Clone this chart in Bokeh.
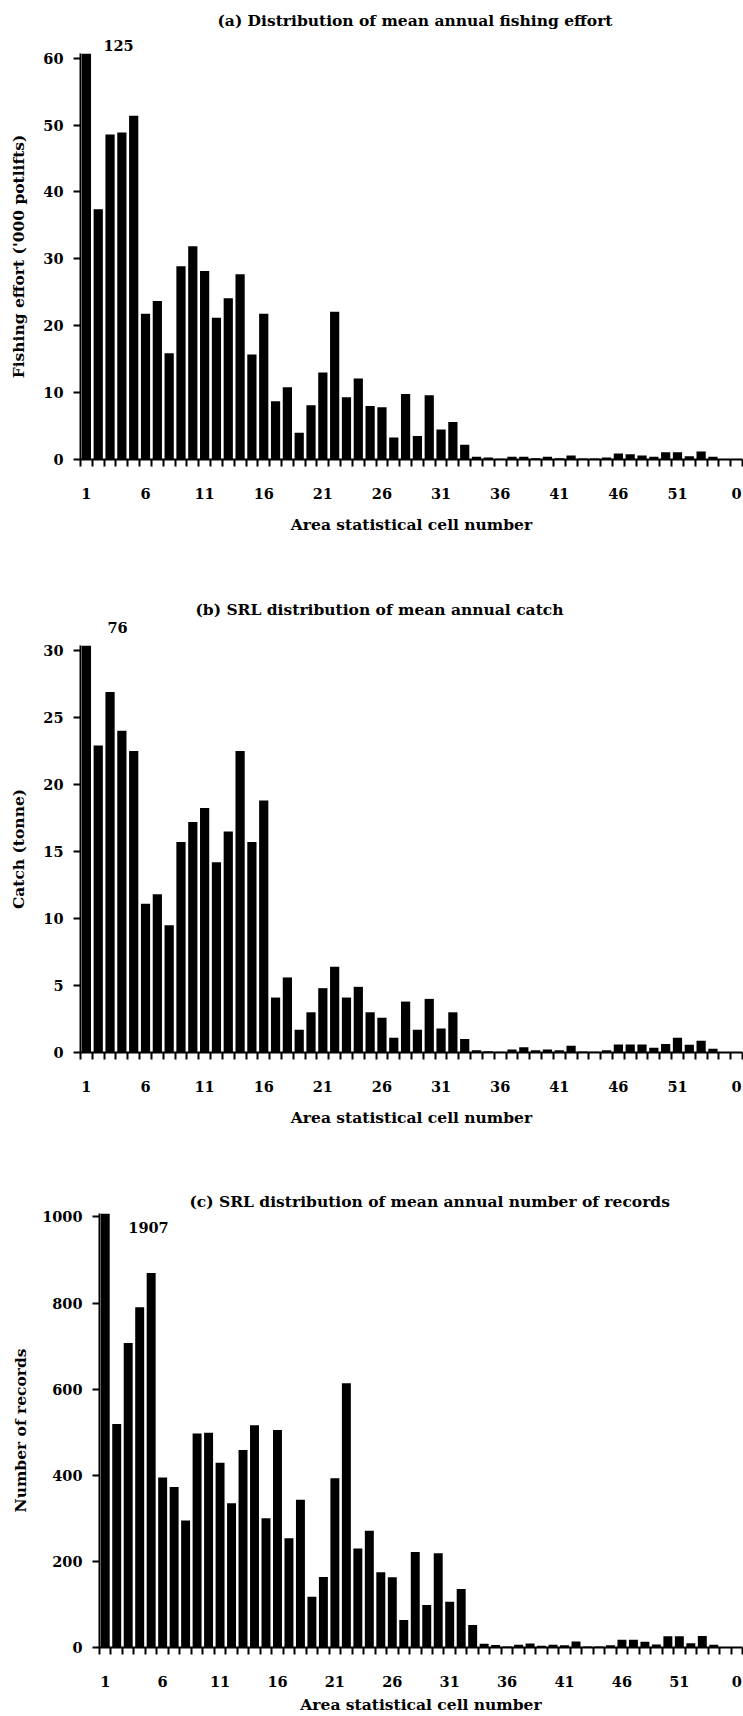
from bokeh.plotting import figure
from bokeh.models import Range1d, FixedTicker, Label, LinearAxis, Title
from bokeh.embed import file_html
from bokeh.resources import INLINE

# ---------------- data ----------------
cells = [str(i) for i in range(1, 56)] + ["0"]
label_every = 5

effort = [125, 37.4, 48.6, 48.9, 51.4, 21.8, 23.7, 15.9, 28.9, 31.9,
          28.2, 21.2, 24.1, 27.7, 15.7, 21.8, 8.7, 10.8, 4.0, 8.1,
          13.0, 22.1, 9.3, 12.1, 8.0, 7.8, 3.3, 9.8, 3.5, 9.6,
          4.5, 5.6, 2.2, 0.4, 0.3, 0.1, 0.4, 0.4, 0.2, 0.4,
          0.2, 0.6, 0.15, 0.15, 0.3, 0.9, 0.8, 0.6, 0.4, 1.1,
          1.1, 0.5, 1.2, 0.4, 0, 0]

catch = [76, 22.9, 26.9, 24.0, 22.5, 11.1, 11.8, 9.5, 15.7, 17.2,
         18.25, 14.2, 16.5, 22.5, 15.7, 18.8, 4.1, 5.6, 1.7, 3.0,
         4.8, 6.4, 4.1, 4.9, 3.0, 2.6, 1.1, 3.8, 1.7, 4.0,
         1.8, 3.0, 1.0, 0.17, 0.1, 0.05, 0.22, 0.4, 0.17, 0.22,
         0.17, 0.5, 0.08, 0.05, 0.17, 0.6, 0.6, 0.6, 0.35, 0.63,
         1.1, 0.58, 0.88, 0.28, 0, 0]

records = [1907, 519, 707, 790, 870, 395, 373, 295, 497, 499,
           429, 335, 459, 516, 300, 505, 254, 343, 118, 164,
           393, 614, 230, 271, 175, 163, 64, 222, 99, 219,
           106, 136, 52, 9, 6, 2.5, 6.5, 9.5, 4, 6.5,
           5, 14, 2.5, 2.5, 5, 18, 18, 13.5, 7, 26,
           26, 10, 27, 6.5, 0, 0]

effort_ticks = [0, 10, 20, 30, 40, 50, 60]
catch_ticks = [0, 5, 10, 15, 20, 25, 30]
records_ticks = [0, 200, 400, 600, 800, 1000]

FONT = "DejaVu Serif"
NUM_FS = "14.5px"
TXT_FS = "15.5px"


def panel(values, yend, yticks, title, ylabel, height, top, bottom, left,
          title_offset, title_standoff, val_x, val_mode, val_standoff,
          ylab_standoff, xlab_standoff):
    n = len(cells)
    xs = list(range(1, n + 1))
    p = figure(width=743, height=height, title=None,
               x_range=Range1d(0.5, n + 0.5), y_range=Range1d(0, yend),
               output_backend="svg", toolbar_location=None,
               min_border_left=left, min_border_right=1,
               min_border_top=top, min_border_bottom=bottom)
    p.outline_line_color = None
    p.grid.visible = False
    p.background_fill_color = "white"

    p.vbar(x=xs, top=values, width=0.78, bottom=0,
           fill_color="black", line_color=None)

    # x axis: labels every 5 cells, ticks between categories
    lab_pos = xs[::label_every]
    xa = p.xaxis[0]
    xa.ticker = FixedTicker(ticks=lab_pos,
                            minor_ticks=[x - 0.5 for x in xs] + [n + 0.5])
    xa.major_label_overrides = {pos: cells[pos - 1] for pos in lab_pos}
    xa.major_tick_out = 0
    xa.major_tick_in = 0
    xa.minor_tick_out = 7
    xa.minor_tick_in = 0
    xa.minor_tick_line_width = 2
    xa.minor_tick_line_color = "black"
    xa.axis_line_width = 2
    xa.axis_line_color = "black"
    xa.major_label_standoff = 21
    xa.axis_label = "Area statistical cell number"
    xa.axis_label_standoff = xlab_standoff

    ya = p.yaxis[0]
    ya.ticker = FixedTicker(ticks=yticks)
    ya.major_tick_out = 7
    ya.major_tick_in = 0
    ya.minor_tick_out = 0
    ya.minor_tick_in = 0
    ya.major_tick_line_width = 2
    ya.major_tick_line_color = "black"
    ya.axis_line_width = 2
    ya.axis_line_color = "black"
    ya.major_label_standoff = 10
    ya.axis_label = ylabel
    ya.axis_label_standoff = ylab_standoff

    for ax in (xa, ya):
        ax.major_label_text_font = FONT
        ax.major_label_text_font_size = NUM_FS
        ax.major_label_text_font_style = "bold"
        ax.major_label_text_color = "black"
        ax.axis_label_text_font = FONT
        ax.axis_label_text_font_size = TXT_FS
        ax.axis_label_text_font_style = "bold"
        ax.axis_label_text_color = "black"

    # value of the clipped first bar
    if val_mode == "above":
        va = LinearAxis(ticker=FixedTicker(ticks=[val_x]),
                        major_label_overrides={val_x: str(values[0])},
                        axis_line_color=None, major_tick_line_color=None,
                        minor_tick_line_color=None, major_tick_out=0,
                        major_tick_in=0, minor_tick_out=0, minor_tick_in=0,
                        major_label_standoff=val_standoff,
                        major_label_text_font=FONT,
                        major_label_text_font_size=NUM_FS,
                        major_label_text_font_style="bold",
                        major_label_text_color="black")
        p.add_layout(va, "above")
    else:
        p.add_layout(Label(x=val_x, y=yend, y_offset=val_standoff,
                           text=str(values[0]), text_font=FONT,
                           text_font_size=NUM_FS, text_font_style="bold",
                           text_color="black", text_align="center",
                           text_baseline="middle"))

    p.add_layout(Title(text=title, align="left", offset=title_offset,
                       standoff=title_standoff, text_font=FONT,
                       text_font_size=TXT_FS, text_font_style="bold",
                       text_color="black"), "above")
    return p


pa = panel(effort, 60.7, effort_ticks,
           "(a) Distribution of mean annual fishing effort",
           "Fishing effort ('000 potlifts)",
           height=575, top=53, bottom=116, left=80,
           title_offset=137, title_standoff=14,
           val_x=3.72, val_mode="above", val_standoff=3,
           ylab_standoff=12, xlab_standoff=13)
pb = panel(catch, 30.37, catch_ticks,
           "(b) SRL distribution of mean annual catch",
           "Catch (tonne)",
           height=590, top=70, bottom=113, left=80,
           title_offset=115, title_standoff=0,
           val_x=3.63, val_mode="above", val_standoff=13,
           ylab_standoff=12, xlab_standoff=13)
pc = panel(records, 1008, records_ticks,
           "(c) SRL distribution of mean annual number of records",
           "Number of records",
           height=551, top=48, bottom=69, left=99,
           title_offset=90, title_standoff=6,
           val_x=4.77, val_mode="inside", val_standoff=-14,
           ylab_standoff=9, xlab_standoff=5)

open("out.html", "w").write(file_html([pa, pb, pc], INLINE))
